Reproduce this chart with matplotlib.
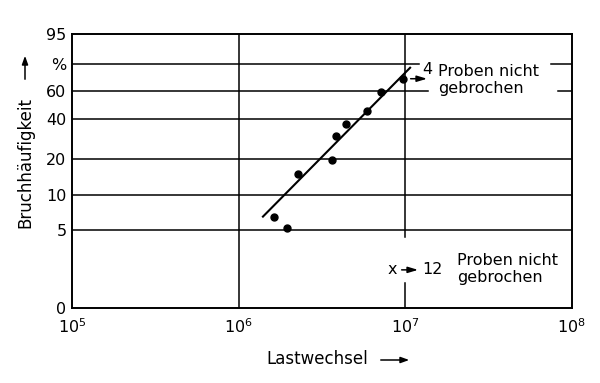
import numpy as np
import matplotlib
matplotlib.use("Agg")
import matplotlib.pyplot as plt

# Weibull-Wahrscheinlichkeitsnetz: Lastwechsel (log) gegen Bruchhaeufigkeit in %
lastwechsel = [1.64e6, 1.96e6, 2.26e6, 3.62e6, 3.85e6, 4.40e6, 5.93e6, 7.13e6, 9.66e6]
bruch_proz = [6.4, 5.2, 15.0, 19.6, 30.3, 36.9, 45.6, 59.2, 68.9]

fit_n = [1.40e6, 1.07e7]
fit_p = [6.5, 77.4]

y_ticks = [1, 5, 10, 20, 40, 60, 80, 95]
y_labels = ["0", "5", "10", "20", "40", "60", "%", "95"]
x_ticks = [1e5, 1e6, 1e7, 1e8]


def fwd(p):
    p = np.clip(np.asarray(p, dtype=float), 1e-6, 99.9999)
    return np.log(-np.log(1 - p / 100))


def inv(f):
    return 100 * (1 - np.exp(-np.exp(f)))


plt.rcParams['font.family'] = 'DejaVu Sans'
fig = plt.figure(figsize=(6, 3.83), dpi=100)
ax = fig.add_axes([0.12, 0.196, 0.833, 0.715])

ax.set_xscale('log')
ax.set_yscale('function', functions=(fwd, inv))
ax.set_xlim(1e5, 1e8)
ax.set_ylim(1, 95)

ax.set_xticks(x_ticks)
ax.set_xticks([], minor=True)
ax.set_yticks(y_ticks)
ax.set_yticklabels(y_labels)
ax.set_yticks([], minor=True)
ax.tick_params(length=0, labelsize=11.5)
ax.tick_params(axis='y', pad=4)
ax.tick_params(axis='x', pad=7)

for s in ax.spines.values():
    s.set_linewidth(1.4)

# Gitterlinien, teilweise unterbrochen fuer die Beschriftung
gl = dict(color='black', lw=1.1, zorder=1)
ax.axhline(80, xmin=0, xmax=0.695, **gl)
ax.axhline(80, xmin=0.958, xmax=1, **gl)
ax.axhline(60, xmin=0, xmax=0.712, **gl)
ax.axhline(60, xmin=0.972, xmax=1, **gl)
for p in [40, 20, 10, 5]:
    ax.axhline(p, **gl)
ax.axvline(1e6, **gl)
ax.axvline(1e7, ymin=0, ymax=0.091, **gl)
ax.axvline(1e7, ymin=0.259, ymax=1, **gl)

ax.plot(fit_n, fit_p, color='black', lw=1.5, zorder=3)
ax.plot(lastwechsel, bruch_proz, 'o', color='black', ms=5, zorder=4)

arr = dict(arrowstyle='-|>,head_length=0.6,head_width=0.18', color='black', lw=1.1)

# 4 Proben nicht gebrochen
ax.annotate('', xy=(0.716, 0.837), xytext=(0.672, 0.837), xycoords='axes fraction',
            textcoords='axes fraction', arrowprops=arr)
ax.text(0.700, 0.869, '4', transform=ax.transAxes, fontsize=11.5, va='center', ha='left')
ax.text(0.732, 0.832, 'Proben nicht\ngebrochen', transform=ax.transAxes, fontsize=11.5,
        va='center', ha='left', linespacing=1.2)

# x -> 12 Proben nicht gebrochen
ax.text(0.632, 0.142, 'x', transform=ax.transAxes, fontsize=11.5, va='center', ha='left')
ax.annotate('', xy=(0.698, 0.139), xytext=(0.654, 0.139), xycoords='axes fraction',
            textcoords='axes fraction', arrowprops=arr)
ax.text(0.700, 0.142, '12', transform=ax.transAxes, fontsize=11.5, va='center', ha='left')
ax.text(0.770, 0.142, 'Proben nicht\ngebrochen', transform=ax.transAxes, fontsize=11.5,
        va='center', ha='left', linespacing=1.2)

# Achsenbeschriftungen mit Pfeilen
fig.text(25 / 600, 1 - 163 / 383, 'Bruchhäufigkeit', rotation=90, fontsize=12,
         ha='center', va='center')
fig.add_artist(matplotlib.patches.FancyArrowPatch(
    (25 / 600, 1 - 82 / 383), (25 / 600, 1 - 53 / 383), transform=fig.transFigure,
    arrowstyle='-|>,head_length=5,head_width=1.8', color='black', lw=1.1))

fig.text(317 / 600, 1 - 359 / 383, 'Lastwechsel', fontsize=12, ha='center', va='center')
fig.add_artist(matplotlib.patches.FancyArrowPatch(
    (378 / 600, 1 - 360 / 383), (412 / 600, 1 - 360 / 383), transform=fig.transFigure,
    arrowstyle='-|>,head_length=5,head_width=1.8', color='black', lw=1.1))

fig.savefig('out.png', dpi=100)
